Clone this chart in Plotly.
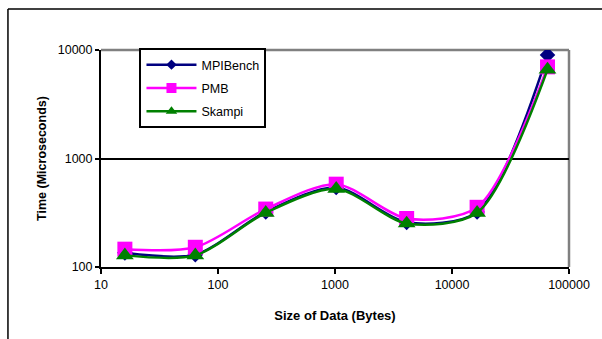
import plotly.graph_objects as go

sizes = [16, 64, 256, 1024, 4096, 16384, 65536]
mpibench = [135, 130, 322, 540, 258, 322, 9000]
pmb = [146, 152, 342, 580, 280, 355, 6990]
skampi = [128, 128, 316, 525, 252, 316, 6600]

x_ticks = [10, 100, 1000, 10000, 100000]
y_ticks = [100, 1000, 10000]

W, H = 602, 339
L, R, T, B = 100.6, 30.6, 50, 72
pw, ph = W - L - R, H - T - B

fig = go.Figure()
series = [
    ("MPIBench", mpibench, "#000080", "diamond", 12, 8),
    ("PMB", pmb, "#FF00FF", "square", 15, 10),
    ("Skampi", skampi, "#008000", "triangle-up", 15.5, 10),
]
for i, (name, ys, col, sym, ms, lms) in enumerate(series):
    fig.add_trace(go.Scatter(
        x=sizes, y=ys, name=name, mode="lines+markers",
        line=dict(color=col, width=2.5, shape="spline", smoothing=0.8),
        marker=dict(symbol=sym, size=ms, color=col),
        showlegend=False,
    ))
for i, (name, ys, col, sym, ms, lms) in enumerate(series):
    fig.add_trace(go.Scatter(
        x=[None], y=[None], name=name, mode="lines+markers",
        line=dict(color=col, width=2.5),
        marker=dict(symbol=sym, size=lms, color=col),
        legendgroup=f"g{i}", showlegend=True,
    ))

fig.update_layout(
    width=W, height=H,
    margin=dict(l=L, r=R, t=T, b=B, pad=0),
    paper_bgcolor="white", plot_bgcolor="white",
    font=dict(family="Arial, Liberation Sans", size=12.5, color="black"),
    showlegend=True,
    legend=dict(
        x=(139.3 - L) / pw, y=1 + 2 / ph, xanchor="left", yanchor="top",
        bordercolor="black", borderwidth=2, bgcolor="white",
        font=dict(size=12.5), traceorder="grouped", tracegroupgap=4,
        itemwidth=50,
    ),
    xaxis=dict(
        type="log", range=[1, 5], tickvals=x_ticks,
        ticktext=[str(v) for v in x_ticks],
        showgrid=False, zeroline=False,
        showline=True, linecolor="black", linewidth=2,
        ticks="outside", ticklen=5, tickwidth=2, tickcolor="black",
        title=dict(text="<b>Size of Data (Bytes)</b>", font=dict(size=13), standoff=20),
    ),
    yaxis=dict(
        type="log", range=[2, 4], tickvals=y_ticks,
        ticktext=[str(v) for v in y_ticks],
        showgrid=True, gridcolor="black", gridwidth=1.8, zeroline=False,
        showline=True, linecolor="black", linewidth=2,
        ticks="outside", ticklen=4, tickwidth=2, tickcolor="black",
        title=dict(text="<b>Time (Microseconds)</b>", font=dict(size=12.5), standoff=8),
    ),
)

# gray top and right plot border
fig.add_shape(type="line", xref="paper", yref="paper", x0=0, x1=1, y0=1, y1=1,
              line=dict(color="#808080", width=2.5), layer="below")
fig.add_shape(type="line", xref="paper", yref="paper", x0=1, x1=1, y0=0, y1=1,
              line=dict(color="#808080", width=2.5), layer="below")

# outer chart frame (left and top edges visible)
fx0 = (7 - L) / pw
fy1 = 1 + (T - 9) / ph
fy0 = -(345 - (H - B)) / ph
fig.add_shape(type="line", xref="paper", yref="paper", x0=fx0, x1=fx0, y0=fy0, y1=fy1,
              line=dict(color="black", width=1.5))
fig.add_shape(type="line", xref="paper", yref="paper", x0=fx0, x1=(610 - L) / pw, y0=fy1, y1=fy1,
              line=dict(color="black", width=1.5))

fig.write_html("out.html")
